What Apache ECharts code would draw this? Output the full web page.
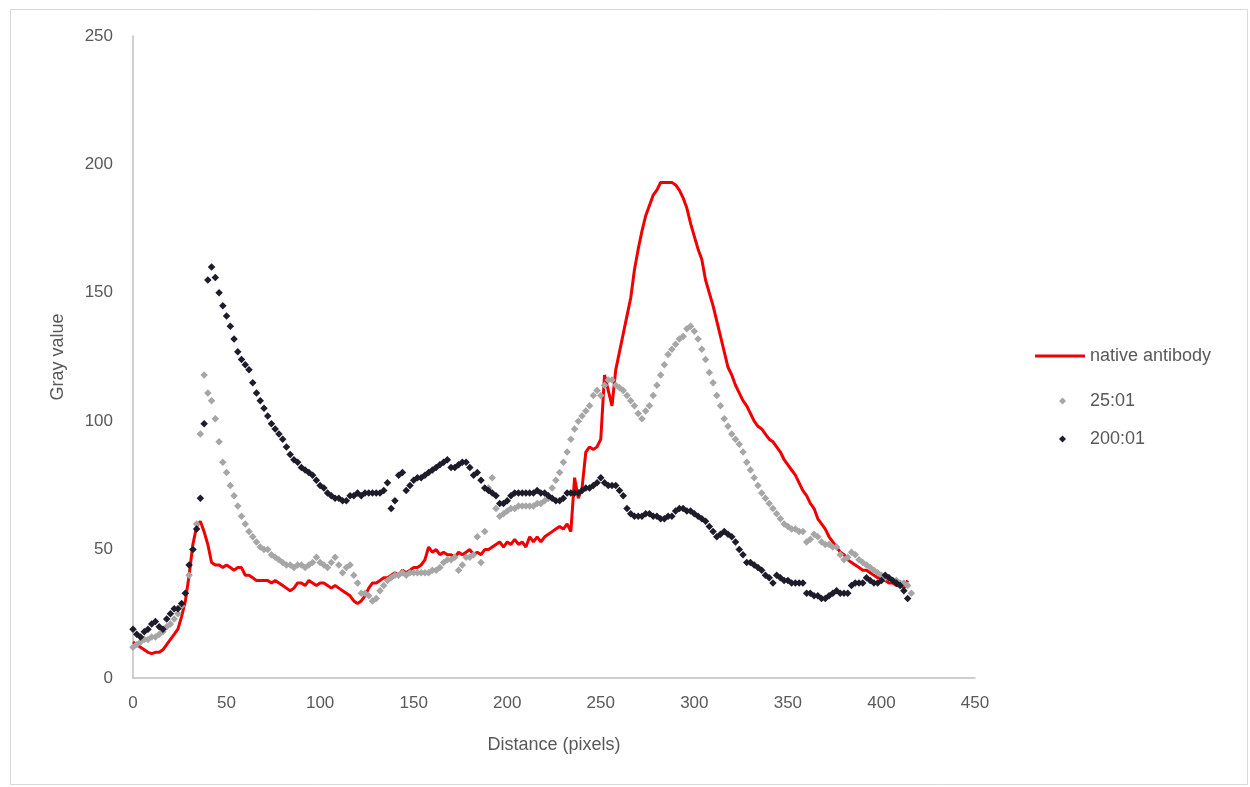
<!DOCTYPE html>
<html>
<head>
<meta charset="utf-8">
<script src="https://cdn.jsdelivr.net/npm/echarts@6/dist/echarts.min.js"></script>
<style>
html,body{margin:0;padding:0;background:#fff;}
#chart{width:1250px;height:787px;}
</style>
</head>
<body>
<div id="chart"></div>
<script>
// Sampling step along the profile (pixels)
const STEP = 2;

const seriesNames = ['native antibody', '25:01', '200:01'];
const xTicks = [0, 50, 100, 150, 200, 250, 300, 350, 400, 450];
const yTicks = [0, 50, 100, 150, 200, 250];

// native antibody (red line), values at distance 0,2,4,...,414
const nativeAntibody = [
14,13,12,11,10,9.5,10,10,11,13,15,17,19,24,30,40,52,59,61,57,
52,45,44,44,43,44,43,42,43,43,40,40,39,38,38,38,38,37,38,37,
36,35,34,35,37,37,36,38,37,36,37,37,36,35,36,35,34,33,32,30,
29,30,32,35,37,37,38,39,39,40,41,40,42,41,42,43,43,44,46,51,
49,50,48,49,48,48,47,49,48,49,50,48,49,48,50,50,51,52,53,51,
53,52,54,52,53,51,55,53,55,53,55,56,57,58,59,58,60,57,78,70,
74,88,90,89,90,93,118,112,106,120,127,134,141,148,159,167,174,180,184,188,
190,193,193,193,193,192,190,187,183,177,172,167,163,155,150,145,139,133,127,121,
118,114,111,108,106,103,100,98,97,95,93,92,90,88,85,83,81,79,76,73,
71,68,66,62,60,58,55,53,51,49,48,46,45,44,43,42,42,41,40,39,
39,38,37,37,36,36,35,38
];

// 25:01 (gray diamonds), values at distance 0,2,4,...,414
const ratio25 = [
12,13,14,15,15,16,16,17,18,20,21,23,25,28,33,40,50,60,95,118,
111,108,101,92,84,80,75,71,67,63,60,57,55,53,51,50,50,48,47,46,
45,44,44,43,44,44,43,44,45,47,45,44,43,45,47,44,41,43,44,40,
37,33,33,32,30,31,34,36,38,39,40,40,41,40,41,41,41,41,41,41,
42,42,43,45,46,46,47,42,44,47,47,48,55,45,57,74,78,66,63,64,
65,66,66,67,67,67,67,67,68,68,69,70,74,77,80,84,88,93,97,100,
102,104,106,110,112,110,114,116,116,114,113,112,110,108,106,103,101,104,106,110,
114,118,122,126,128,130,132,133,136,137,135,132,128,124,119,115,110,106,101,98,
95,93,91,88,84,81,78,75,72,70,68,66,64,62,60,59,58,58,57,57,
53,54,56,55,53,52,52,51,51,48,46,47,49,48,46,45,44,43,42,41,
40,39,39,38,38,37,37,36,33
];

// 200:01 (black diamonds), values at distance 0,2,4,...,414
const ratio200 = [
19,17,16,18,19,21,22,20,19,23,25,27,27,29,33,44,50,58,70,99,
155,160,156,150,145,141,137,132,127,124,122,120,115,111,108,105,102,99,97,95,
93,90,87,85,84,82,81,80,79,77,75,74,72,71,70,70,69,69,71,71,
72,71,72,72,72,72,72,73,76,66,69,79,80,73,75,77,78,78,79,80,
81,82,83,84,85,82,82,83,84,84,82,79,80,77,74,73,72,71,68,68,
69,71,72,72,72,72,72,72,73,72,72,71,70,69,69,70,72,72,72,72,
73,74,74,75,76,78,76,75,75,75,73,71,66,64,63,63,63,64,64,63,
63,62,62,63,63,65,66,66,65,65,64,63,62,61,59,57,55,56,57,56,
55,53,50,48,45,45,44,43,42,40,39,37,40,39,38,38,37,37,37,37,
33,33,32,32,31,31,32,33,34,33,33,33,36,37,37,37,39,38,37,37,
38,40,39,38,37,36,34,31
];

function pairs(vals){ return vals.map((v,i)=>[i*STEP, v]); }

const textColor = '#595959';
const fontFam = 'Liberation Sans, Arial, sans-serif';
const legendText = {color:textColor, fontSize:18, fontFamily:fontFam};

const chart = echarts.init(document.getElementById('chart'), null, {renderer:'canvas'});
chart.setOption({
  backgroundColor:'#ffffff',
  animation:false,
  graphic:[{
    type:'rect', left:8, top:7, shape:{x:0,y:0,width:1237,height:775},
    style:{fill:'none', stroke:'#d9d9d9', lineWidth:1}, silent:true
  }],
  grid:{left:133, right:275, top:36, bottom:109, containLabel:false},
  legend:[
    {
      orient:'vertical', left:1030, top:342,
      itemWidth:50, itemHeight:3, icon:'rect',
      textStyle:Object.assign({padding:[0,0,0,0]}, legendText),
      data:[seriesNames[0]]
    },
    {
      orient:'vertical', left:1054, top:387, itemGap:20,
      itemWidth:7, itemHeight:7, icon:'diamond',
      textStyle:Object.assign({padding:[0,0,0,19]}, legendText),
      data:[seriesNames[1], seriesNames[2]]
    }
  ],
  xAxis:{
    type:'value', min:xTicks[0], max:xTicks[xTicks.length-1], interval:50,
    name:'Distance (pixels)', nameLocation:'middle', nameGap:58,
    nameTextStyle:{color:textColor, fontSize:18, fontFamily:fontFam},
    axisLine:{show:true, onZero:false, lineStyle:{color:'#bfbfbf', width:1.5}},
    axisTick:{show:false},
    splitLine:{show:false},
    axisLabel:{color:textColor, fontSize:17, fontFamily:fontFam, margin:17}
  },
  yAxis:{
    type:'value', min:yTicks[0], max:yTicks[yTicks.length-1], interval:50,
    name:'Gray value', nameLocation:'middle', nameGap:66, nameRotate:90,
    nameTextStyle:{color:textColor, fontSize:18, fontFamily:fontFam},
    axisLine:{show:true, lineStyle:{color:'#bfbfbf', width:1.5}},
    axisTick:{show:false},
    splitLine:{show:false},
    axisLabel:{color:textColor, fontSize:17, fontFamily:fontFam, margin:20}
  },
  series:[
    {
      name:seriesNames[0], type:'line', data:pairs(nativeAntibody),
      symbol:'none', color:'#f00000',
      lineStyle:{color:'#f00000', width:3}, z:2
    },
    {
      name:seriesNames[1], type:'scatter', data:pairs(ratio25),
      symbol:'diamond', symbolSize:7.5, color:'#a6a6a6',
      itemStyle:{color:'#a6a6a6', opacity:1}, z:3
    },
    {
      name:seriesNames[2], type:'scatter', data:pairs(ratio200),
      symbol:'diamond', symbolSize:7.5, color:'#1c1c2a',
      itemStyle:{color:'#1c1c2a', opacity:1}, z:4
    }
  ]
});
</script>
</body>
</html>
